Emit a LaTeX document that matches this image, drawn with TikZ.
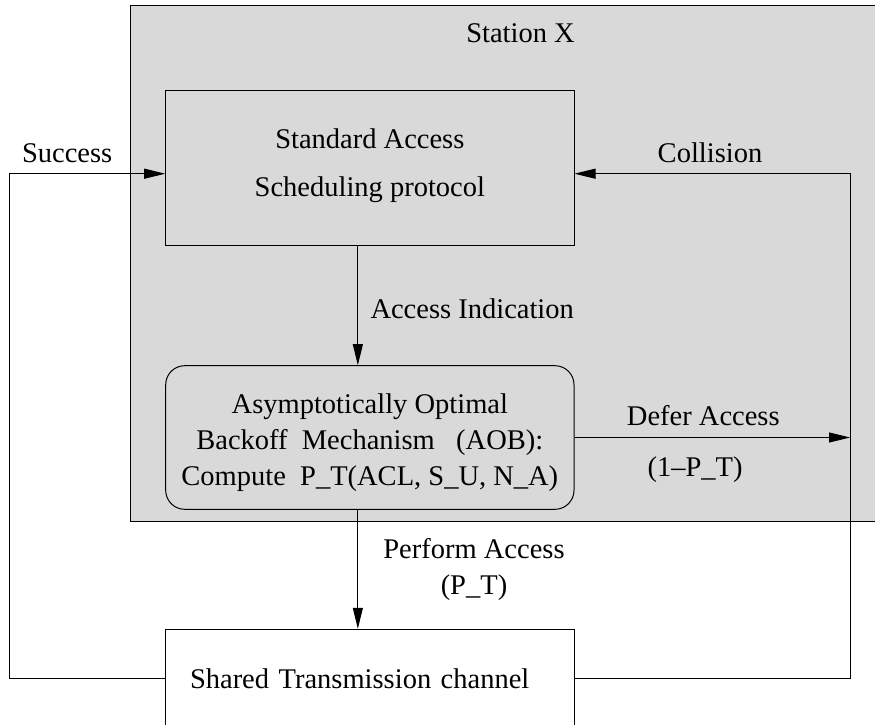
\documentclass[tikz,border=0pt]{standalone}
\usepackage{fontspec}
\setmainfont{Liberation Serif}
\usetikzlibrary{arrows.meta}
\usetikzlibrary{positioning}
\tikzset{
    % Long narrow filled tip, as the original drawing has them
    >={Triangle[length=21pt, width=10pt]},
%
    % The grey of the station and of the blocks inside it
    station fill/.style={fill=black!15},
%
    % Text is set rather large in this drawing
    big font/.style={font=\fontsize{28.5}{36}\selectfont}}

\begin{document}
\begin{tikzpicture}[x=1pt, y=-1pt, line width=1pt, big font,
    block/.style={draw, minimum width=408.3pt, inner sep=0pt, align=center},
    caption/.style={inner sep=0pt, anchor=base}]

\useasboundingbox (0,0) rectangle (875,725);

% Station X: the grey area, cut off by the right margin
\node[draw, station fill, minimum width=769.5pt, minimum height=516pt]
    at (515.25,263.7) (station) {};
\node[caption] at (520.5,42.3) (station name) {Station X};

% Scheduler and backoff blocks inside the station
\node[block, station fill, minimum height=155.5pt] at (369.85,167.75)
    (sched) {Standard Access\\[12.4pt]Scheduling protocol\rule[-10pt]{0pt}{10pt}};
\node[block, station fill, rounded corners=19pt, minimum height=143.6pt]
    at (369.85,437.5) (aob)
    {\rule{0pt}{29.5pt}Asymptotically Optimal\\
     Backoff\ \ Mechanism\ \ \ (AOB):\\
     Compute\ \ P\_T(ACL, S\_U, N\_A)};

% The shared channel, below the station
\node[block, fill=white, minimum height=98.5pt, inner xsep=24.3pt,
    text width=359.7pt, align=left]
    at (369.85,678.55) (chan) {Shared Transmission channel};


% Turning points of the two feedback loops
\coordinate (left turn) at (9.3,173.7);
\coordinate (right turn) at (850,173.7);

\draw[->] ([xshift=-12pt]sched.south) -- ([xshift=-12pt]aob.north);
\draw[->] ([xshift=-12pt]aob.south) -- ([xshift=-12pt]chan.north);
\draw[->] (aob.east) -- (aob.east -| right turn);
\draw[->] (chan.west) -| (left turn) -- (left turn -| sched.west);
\draw[->] (chan.east) -| (right turn) -- (right turn -| sched.east);

% Connector labels
\node[caption] at (67.2,162.3) (success) {Success};
\node[caption] at (710,162.3) (collision) {Collision};
\node[caption, anchor=base west] at (370,318) (indication) {Access Indication};
\node[caption] at (703.3,425.7) (defer) {Defer Access};
\node[caption] at (695,476.7) (defer prob) {(1--P\_T)};
\node[caption, anchor=north, align=center] at (474,537.8)
    (perform) {Perform Access\\(P\_T)};
\end{tikzpicture}
\end{document}
